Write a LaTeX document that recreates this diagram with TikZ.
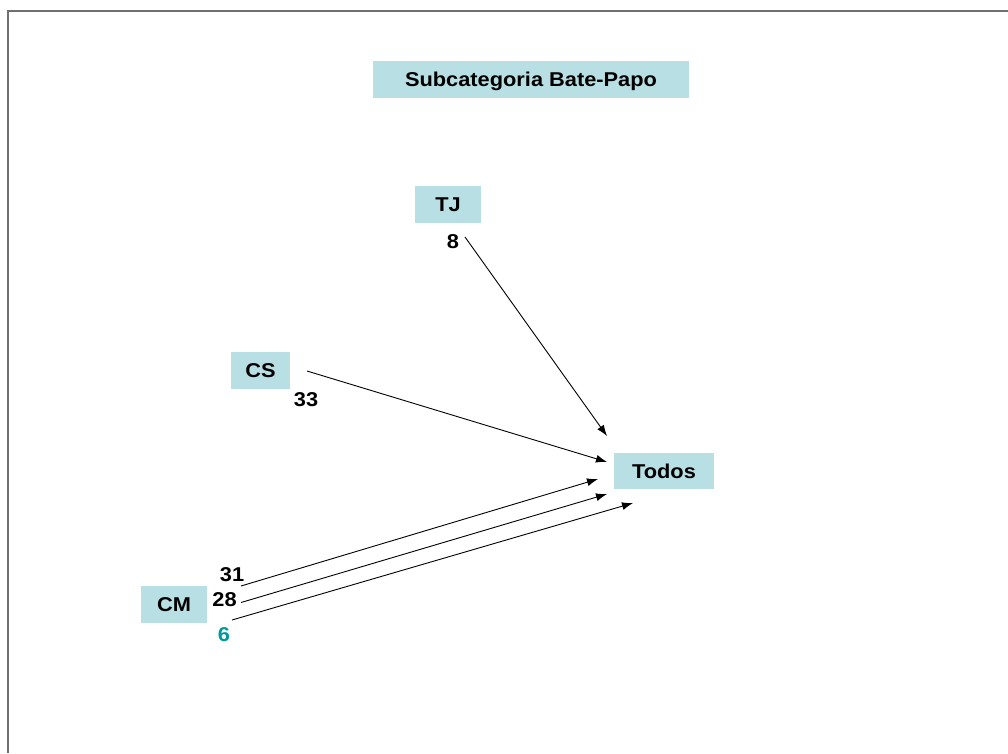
\documentclass[tikz,border=0pt]{standalone}
\usepackage{fontspec}
\setmainfont{Liberation Sans}
\usetikzlibrary{arrows.meta}
\definecolor{boxfill}{HTML}{B8DFE3}
\definecolor{teal6}{HTML}{009999}
\definecolor{framegray}{HTML}{707070}
\newcommand{\wide}[1]{\scalebox{1.09}[1]{#1}}
\begin{document}
\begin{tikzpicture}[x=1pt,y=-1pt,
  catbox/.style={fill=boxfill,draw=none,inner sep=0pt,
    text height=14pt,text depth=0pt,
    font=\fontsize{20}{24}\selectfont\bfseries},
  count/.style={inner sep=0pt,text height=14pt,text depth=0pt,
    font=\fontsize{20}{24}\selectfont\bfseries},
  link/.style={draw=black,line width=0.9pt,-{Latex[length=11pt,width=8pt]}}]
  \useasboundingbox (0,0) rectangle (1008,753);
  % slide frame
  \draw[framegray,line width=1.8pt] (8.3,753) -- (8.3,11) -- (1008,11);

  % boxes
  \node[catbox,minimum width=316pt,minimum height=37pt] (title) at (531,79.5) {\wide{Subcategoria Bate-Papo}};
  \node[catbox,minimum width=66pt,minimum height=37pt] (tj) at (448,204.5) {\wide{TJ}};
  \node[catbox,minimum width=59pt,minimum height=37pt] (cs) at (260.5,370.5) {\wide{CS}};
  \node[catbox,minimum width=100pt,minimum height=36pt] (todos) at (664,471) {\wide{Todos}};
  \node[catbox,minimum width=66pt,minimum height=37pt] (cm) at (174,604.5) {\wide{CM}};

  % counts
  \node[count] (n8) at (453,241) {\wide{8}};
  \node[count] (n33) at (306,399.5) {\wide{33}};
  \node[count] (n31) at (232,574) {\wide{31}};
  \node[count] (n28) at (224.5,599) {\wide{28}};
  \node[count,text=teal6] (n6) at (224,634) {\wide{6}};

  % arrow ends
  \coordinate (tj-out) at (465,237);
  \coordinate (cs-out) at (307,371);
  \coordinate (cm-out1) at (241,586);
  \coordinate (cm-out2) at (241,602.5);
  \coordinate (cm-out3) at (232,620);
  \coordinate (todos-in1) at (607,436);
  \coordinate (todos-in2) at (607,462);
  \coordinate (todos-in3) at (598,479);
  \coordinate (todos-in4) at (607,494);
  \coordinate (todos-in5) at (633,503);

  % connectors
  \draw[link] (tj-out) -- (todos-in1);
  \draw[link] (cs-out) -- (todos-in2);
  \draw[link] (cm-out1) -- (todos-in3);
  \draw[link] (cm-out2) -- (todos-in4);
  \draw[link] (cm-out3) -- (todos-in5);
\end{tikzpicture}
\end{document}
